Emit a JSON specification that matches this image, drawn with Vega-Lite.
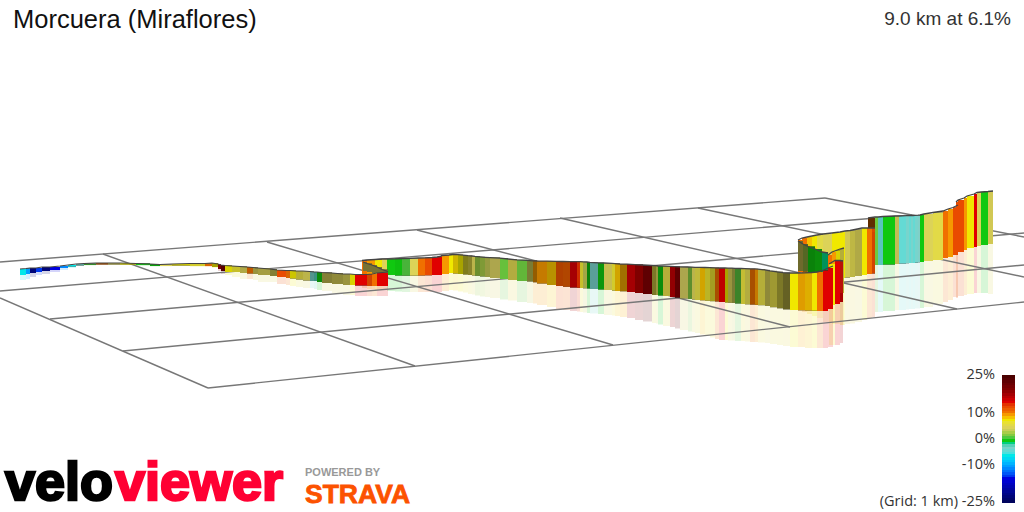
{"$schema":"https://vega.github.io/schema/vega-lite/v6.json","width":1024,"height":512,"padding":0,"autosize":"none","background":"white",
"config":{"axis":{"disable":true},"legend":{"disable":true},"view":{"stroke":null}},
"datasets":{
"grid":[{"x":0,"y":262,"x2":825,"y2":198},{"x":0,"y":291,"x2":912,"y2":215},{"x":50,"y":319,"x2":1024,"y2":233},{"x":123,"y":351,"x2":1024,"y2":265},{"x":208,"y":388,"x2":1024,"y2":302},{"x":0,"y":298,"x2":208,"y2":388},{"x":103,"y":254,"x2":415,"y2":366},{"x":267,"y":242,"x2":613,"y2":345},{"x":417,"y":230,"x2":790,"y2":327},{"x":560,"y":218,"x2":957,"y2":309},{"x":698,"y":208,"x2":1024,"y2":277},{"x":825,"y":198,"x2":1024,"y2":237}],
"rib":[
{"s":"S6","z":0,"x":956,"x2":958,"t":202,"b":255,"r":298,"g":13,"l":1},{"s":"S6","z":0,"x":958,"x2":964,"t":200,"b":252,"r":296,"g":13,"l":1},{"s":"S6","z":0,"x":964,"x2":967,"t":198,"b":250,"r":295,"g":10,"l":1},{"s":"S6","z":0,"x":967,"x2":974,"t":196,"b":248,"r":294,"g":8,"l":1},{"s":"S6","z":0,"x":974,"x2":977,"t":194,"b":247,"r":293,"g":15,"l":1},{"s":"S6","z":0,"x":977,"x2":981,"t":192.5,"b":246,"r":293,"g":5,"l":1},{"s":"S6","z":0,"x":981,"x2":988,"t":192,"b":245,"r":293,"g":0,"l":1},{"s":"S6","z":0,"x":988,"x2":993,"t":191.5,"b":244,"r":294,"g":5,"l":0.95},{"s":"S6","z":0,"x":993,"x2":993,"t":191,"b":243,"r":294,"g":5,"l":0.95},
{"s":"S5","z":0,"x":868,"x2":875,"t":218,"b":232,"r":232,"g":11,"l":0.4},{"s":"S5","z":0,"x":875,"x2":878,"t":217,"b":265,"r":312,"g":1.5,"l":1},{"s":"S5","z":0,"x":878,"x2":883,"t":217,"b":265,"r":312,"g":-4,"l":0.9},{"s":"S5","z":0,"x":883,"x2":895,"t":216.5,"b":264.5,"r":311,"g":0,"l":1},{"s":"S5","z":0,"x":895,"x2":899,"t":216,"b":264,"r":310,"g":4.5,"l":0.9},{"s":"S5","z":0,"x":899,"x2":906,"t":216,"b":263.5,"r":310,"g":-4,"l":1},{"s":"S5","z":0,"x":906,"x2":909,"t":215.7,"b":263.2,"r":309.5,"g":-3,"l":1},{"s":"S5","z":0,"x":909,"x2":911,"t":215.5,"b":263,"r":309,"g":-4,"l":1},{"s":"S5","z":0,"x":911,"x2":913,"t":215.5,"b":263,"r":309,"g":-3,"l":1},{"s":"S5","z":0,"x":913,"x2":915,"t":215.5,"b":263,"r":309,"g":-4,"l":1},{"s":"S5","z":0,"x":915,"x2":918,"t":215.3,"b":262.7,"r":308.5,"g":-3,"l":1},{"s":"S5","z":0,"x":918,"x2":920,"t":215.2,"b":262.3,"r":308.5,"g":-2.5,"l":1},{"s":"S5","z":0,"x":920,"x2":924,"t":215,"b":262,"r":308,"g":0,"l":1},{"s":"S5","z":0,"x":924,"x2":933,"t":214,"b":261,"r":307,"g":5,"l":1},{"s":"S5","z":0,"x":933,"x2":943,"t":212.5,"b":260,"r":304,"g":6,"l":1},{"s":"S5","z":0,"x":943,"x2":948,"t":211,"b":258,"r":302,"g":11,"l":1},{"s":"S5","z":0,"x":948,"x2":953,"t":209,"b":257,"r":300,"g":10,"l":1},{"s":"S5","z":0,"x":953,"x2":958,"t":207.5,"b":255,"r":297,"g":13,"l":1},{"s":"S5","z":0,"x":958,"x2":958,"t":205,"b":253,"r":295,"g":13,"l":1},
{"s":"S4","z":0,"x":798,"x2":802,"t":240,"b":272,"r":310,"g":11,"l":1},{"s":"S4","z":0,"x":802,"x2":807,"t":238,"b":273,"r":312,"g":11,"l":1},{"s":"S4","z":0,"x":807,"x2":812,"t":237,"b":274,"r":314,"g":9,"l":1},{"s":"S4","z":0,"x":812,"x2":817,"t":236,"b":275,"r":316,"g":8,"l":1},{"s":"S4","z":0,"x":817,"x2":823,"t":235,"b":275,"r":318,"g":6,"l":1},{"s":"S4","z":0,"x":823,"x2":832,"t":234,"b":276,"r":322,"g":5,"l":1},{"s":"S4","z":0,"x":832,"x2":840,"t":233,"b":277,"r":324,"g":8,"l":1},{"s":"S4","z":0,"x":840,"x2":845,"t":232,"b":278,"r":325,"g":8,"l":1},{"s":"S4","z":0,"x":845,"x2":850,"t":231,"b":277.5,"r":324,"g":5,"l":0.95},{"s":"S4","z":0,"x":850,"x2":855,"t":230.5,"b":277,"r":323.5,"g":5.5,"l":0.85},{"s":"S4","z":0,"x":855,"x2":862,"t":229.5,"b":276,"r":322,"g":5,"l":0.8},{"s":"S4","z":0,"x":862,"x2":867,"t":228,"b":275,"r":320,"g":8,"l":1},{"s":"S4","z":0,"x":867,"x2":872,"t":228,"b":274,"r":318,"g":11,"l":1},{"s":"S4","z":0,"x":872,"x2":875,"t":228,"b":273.5,"r":317,"g":13,"l":0.9},{"s":"S4","z":0,"x":875,"x2":875,"t":228,"b":273,"r":316,"g":13,"l":0.9},
{"s":"G","z":1,"x":798,"x2":803,"t":241,"b":271,"r":271,"g":5,"l":0.5},{"s":"G","z":1,"x":803,"x2":808,"t":244,"b":271.5,"r":271.5,"g":3,"l":0.5},{"s":"G","z":1,"x":808,"x2":815,"t":246.5,"b":272,"r":272,"g":0,"l":0.65},{"s":"G","z":1,"x":815,"x2":822,"t":249,"b":272,"r":272,"g":0,"l":0.7},{"s":"G","z":1,"x":822,"x2":828,"t":252,"b":272,"r":272,"g":-1,"l":0.7},{"s":"G","z":1,"x":828,"x2":828,"t":253,"b":272,"r":272,"g":-1,"l":0.7},
{"s":"O","z":1,"x":828,"x2":832,"t":255,"b":270,"r":270,"g":11,"l":1},{"s":"O","z":1,"x":832,"x2":836,"t":252,"b":272,"r":272,"g":10,"l":1},{"s":"O","z":1,"x":836,"x2":840,"t":250.5,"b":290,"r":290,"g":8,"l":0.9},{"s":"O","z":1,"x":840,"x2":844,"t":249,"b":293,"r":325,"g":6,"l":0.8},{"s":"O","z":1,"x":844,"x2":844,"t":248,"b":293,"r":325,"g":6,"l":0.8},
{"s":"R","z":1,"x":829,"x2":835,"t":264,"b":305,"r":345,"g":8,"l":1},{"s":"R","z":1,"x":835,"x2":840,"t":260.5,"b":304,"r":345,"g":15,"l":1},{"s":"R","z":1,"x":840,"x2":843,"t":260.5,"b":302,"r":343,"g":17,"l":0.9},{"s":"R","z":1,"x":843,"x2":843,"t":261,"b":301,"r":342,"g":17,"l":0.9},
{"s":"M","z":2,"x":362,"x2":367,"t":260.5,"b":274.5,"r":288,"g":11,"l":1},{"s":"M","z":2,"x":367,"x2":375,"t":260,"b":275,"r":289,"g":10,"l":1},{"s":"M","z":2,"x":375,"x2":382,"t":259.5,"b":275,"r":290,"g":8,"l":1},{"s":"M","z":2,"x":382,"x2":387,"t":259,"b":275,"r":290,"g":5,"l":1},{"s":"M","z":2,"x":387,"x2":395,"t":259,"b":275,"r":291,"g":0,"l":1},{"s":"M","z":2,"x":395,"x2":402,"t":258.8,"b":275.5,"r":291.5,"g":0,"l":0.95},{"s":"M","z":2,"x":402,"x2":410,"t":258.5,"b":275.7,"r":292,"g":1,"l":0.9},{"s":"M","z":2,"x":410,"x2":418,"t":258.3,"b":275.7,"r":292,"g":5,"l":1},{"s":"M","z":2,"x":418,"x2":425,"t":258,"b":275.5,"r":292,"g":11,"l":1},{"s":"M","z":2,"x":425,"x2":432,"t":257.8,"b":275.3,"r":292,"g":13,"l":1},{"s":"M","z":2,"x":432,"x2":437,"t":257.5,"b":275,"r":292,"g":15,"l":1},{"s":"M","z":2,"x":437,"x2":440,"t":257,"b":275,"r":292,"g":15,"l":1},
{"s":"M","z":2,"x":440,"x2":442,"t":256.5,"b":275,"r":292,"g":15,"l":1},{"s":"M","z":2,"x":442,"x2":449,"t":255.5,"b":274,"r":291,"g":10,"l":1},{"s":"M","z":2,"x":449,"x2":453,"t":255,"b":273,"r":290,"g":8,"l":1},{"s":"M","z":2,"x":453,"x2":458,"t":254.5,"b":273.5,"r":290.5,"g":8.5,"l":0.85},{"s":"M","z":2,"x":458,"x2":463,"t":254.7,"b":274,"r":291.5,"g":8,"l":0.7},{"s":"M","z":2,"x":463,"x2":468,"t":255.2,"b":274.5,"r":292.5,"g":7,"l":0.55},{"s":"M","z":2,"x":468,"x2":472,"t":255.7,"b":275,"r":294,"g":6,"l":0.6},{"s":"M","z":2,"x":472,"x2":475,"t":256,"b":275.5,"r":294.5,"g":5,"l":0.85},{"s":"M","z":2,"x":475,"x2":480,"t":256.4,"b":275.8,"r":295.5,"g":2.5,"l":0.7},{"s":"M","z":2,"x":480,"x2":485,"t":256.9,"b":276.5,"r":296.5,"g":3,"l":0.75},{"s":"M","z":2,"x":485,"x2":490,"t":257.3,"b":277,"r":297,"g":4,"l":0.75},{"s":"M","z":2,"x":490,"x2":500,"t":257.6,"b":278,"r":298,"g":4.5,"l":0.8},{"s":"M","z":2,"x":500,"x2":508,"t":258.2,"b":279,"r":299.5,"g":1.5,"l":0.95},{"s":"M","z":2,"x":508,"x2":517,"t":259,"b":280,"r":300.5,"g":5.5,"l":0.8},{"s":"M","z":2,"x":517,"x2":527,"t":259.9,"b":281,"r":302,"g":1.5,"l":0.9},{"s":"M","z":2,"x":527,"x2":533,"t":260.4,"b":281.5,"r":303,"g":4,"l":0.6},{"s":"M","z":2,"x":533,"x2":537,"t":260.8,"b":282.3,"r":303.5,"g":10,"l":0.6},{"s":"M","z":2,"x":537,"x2":547,"t":261,"b":283.5,"r":305,"g":10,"l":0.8},{"s":"M","z":2,"x":547,"x2":556,"t":261.2,"b":285,"r":307,"g":9,"l":0.75},{"s":"M","z":2,"x":556,"x2":563,"t":261.4,"b":286,"r":309,"g":12.5,"l":0.75},{"s":"M","z":2,"x":563,"x2":570,"t":261.5,"b":286.8,"r":310,"g":12,"l":0.75},{"s":"M","z":2,"x":570,"x2":577,"t":261.6,"b":287.5,"r":311,"g":18,"l":1},{"s":"M","z":2,"x":577,"x2":580,"t":261.7,"b":287.8,"r":311.5,"g":14,"l":0.9},{"s":"M","z":2,"x":580,"x2":583,"t":261.7,"b":288,"r":312,"g":7,"l":0.85},{"s":"M","z":2,"x":583,"x2":587,"t":261.9,"b":288.3,"r":312.5,"g":4,"l":0.8},{"s":"M","z":2,"x":587,"x2":590,"t":262,"b":288.5,"r":313,"g":0,"l":0.65},{"s":"M","z":2,"x":590,"x2":598,"t":262.4,"b":289,"r":313.5,"g":-3,"l":0.75},{"s":"M","z":2,"x":598,"x2":604,"t":262.8,"b":289.5,"r":314,"g":0,"l":0.75},{"s":"M","z":2,"x":604,"x2":612,"t":263,"b":290,"r":315,"g":5,"l":0.9},{"s":"M","z":2,"x":612,"x2":615,"t":263.4,"b":290.5,"r":315.5,"g":7,"l":0.9},{"s":"M","z":2,"x":615,"x2":620,"t":263.6,"b":291,"r":316,"g":9,"l":0.85},{"s":"M","z":2,"x":620,"x2":627,"t":264,"b":291.3,"r":317,"g":9.5,"l":0.65},{"s":"M","z":2,"x":627,"x2":635,"t":264.2,"b":292,"r":318,"g":18,"l":1},{"s":"M","z":2,"x":635,"x2":643,"t":264.6,"b":293,"r":320,"g":20,"l":1},{"s":"M","z":2,"x":643,"x2":652,"t":265,"b":294,"r":321.5,"g":23,"l":1},{"s":"M","z":2,"x":652,"x2":656,"t":265.5,"b":295,"r":323,"g":6,"l":0.55},{"s":"M","z":2,"x":656,"x2":658,"t":265.7,"b":295,"r":323.5,"g":5,"l":0.7},{"s":"M","z":2,"x":658,"x2":663,"t":266,"b":295.5,"r":324.5,"g":0,"l":0.7},{"s":"M","z":2,"x":663,"x2":670,"t":266.2,"b":296,"r":326,"g":6,"l":0.8},{"s":"M","z":2,"x":670,"x2":675,"t":266.4,"b":297,"r":327,"g":19,"l":1},{"s":"M","z":2,"x":675,"x2":680,"t":266.6,"b":297.5,"r":328.5,"g":23,"l":1},{"s":"M","z":2,"x":680,"x2":688,"t":266.9,"b":298.5,"r":330,"g":4.5,"l":0.8},{"s":"M","z":2,"x":688,"x2":692,"t":267,"b":299,"r":331.5,"g":2,"l":0.7},{"s":"M","z":2,"x":692,"x2":695,"t":267.2,"b":299.5,"r":332,"g":5,"l":0.85},{"s":"M","z":2,"x":695,"x2":700,"t":267.3,"b":300,"r":333,"g":6,"l":0.85},{"s":"M","z":2,"x":700,"x2":705,"t":267.4,"b":300.3,"r":334.5,"g":9,"l":0.85},{"s":"M","z":2,"x":705,"x2":710,"t":267.5,"b":300.7,"r":336,"g":7,"l":0.8},{"s":"M","z":2,"x":710,"x2":715,"t":267.7,"b":301.2,"r":337.5,"g":7,"l":0.7},{"s":"M","z":2,"x":715,"x2":719,"t":267.8,"b":301.5,"r":339,"g":11,"l":0.7},{"s":"M","z":2,"x":719,"x2":725,"t":268,"b":302,"r":340,"g":15,"l":0.85},{"s":"M","z":2,"x":725,"x2":728,"t":268,"b":302.5,"r":340,"g":8,"l":0.7},{"s":"M","z":2,"x":728,"x2":732,"t":268.1,"b":302.8,"r":340.5,"g":5,"l":0.7},{"s":"M","z":2,"x":732,"x2":735,"t":268.2,"b":303,"r":340.5,"g":4,"l":0.6},{"s":"M","z":2,"x":735,"x2":741,"t":268.4,"b":303.5,"r":341,"g":1.2,"l":0.65},{"s":"M","z":2,"x":741,"x2":745,"t":268.5,"b":304,"r":341,"g":6.5,"l":0.85},{"s":"M","z":2,"x":745,"x2":750,"t":268.6,"b":304.3,"r":341.5,"g":5.5,"l":0.8},{"s":"M","z":2,"x":750,"x2":755,"t":268.8,"b":304.6,"r":342,"g":11,"l":0.7},{"s":"M","z":2,"x":755,"x2":758,"t":268.9,"b":304.9,"r":342,"g":10,"l":0.8},{"s":"M","z":2,"x":758,"x2":765,"t":269.2,"b":305.2,"r":342.5,"g":6,"l":0.8},{"s":"M","z":2,"x":765,"x2":770,"t":269.9,"b":306,"r":343,"g":5,"l":0.65},{"s":"M","z":2,"x":770,"x2":777,"t":270.9,"b":307.2,"r":344,"g":6,"l":0.7},{"s":"M","z":2,"x":777,"x2":783,"t":271.8,"b":308.3,"r":345,"g":6,"l":0.55},{"s":"M","z":2,"x":783,"x2":790,"t":272.7,"b":309.4,"r":346,"g":5.5,"l":0.45},
{"s":"M","z":2,"x":790,"x2":798,"t":273,"b":310,"r":347,"g":8,"l":1},{"s":"M","z":2,"x":798,"x2":805,"t":273,"b":310.3,"r":347,"g":9.5,"l":0.9},{"s":"M","z":2,"x":805,"x2":812,"t":272.8,"b":310.5,"r":348,"g":9,"l":0.9},{"s":"M","z":2,"x":812,"x2":817,"t":272.5,"b":310.7,"r":348,"g":8,"l":1},{"s":"M","z":2,"x":817,"x2":823,"t":272,"b":311,"r":348,"g":11,"l":1},{"s":"M","z":2,"x":823,"x2":828,"t":270.5,"b":311,"r":348,"g":15,"l":1},{"s":"M","z":2,"x":828,"x2":833,"t":268,"b":309,"r":347,"g":15,"l":1},{"s":"M","z":2,"x":833,"x2":833,"t":266,"b":307,"r":345,"g":15,"l":1},
{"s":"F","z":3,"x":363,"x2":367,"t":262,"b":271,"r":271,"g":4.5,"l":0.55},{"s":"F","z":3,"x":367,"x2":372,"t":263.5,"b":272,"r":272,"g":4.5,"l":0.55},{"s":"F","z":3,"x":372,"x2":377,"t":265,"b":273,"r":273,"g":4.5,"l":0.55},{"s":"F","z":3,"x":377,"x2":382,"t":267,"b":274,"r":274,"g":4.5,"l":0.55},{"s":"F","z":3,"x":382,"x2":388,"t":269.5,"b":275,"r":275,"g":4.5,"l":0.55},{"s":"F","z":3,"x":388,"x2":388,"t":271.5,"b":275,"r":275,"g":4.5,"l":0.55},
{"s":"L","z":3,"x":20,"x2":26,"t":269,"b":275,"r":280,"g":-6,"l":1},{"s":"L","z":3,"x":26,"x2":30,"t":268.5,"b":274,"r":279,"g":-10,"l":1},{"s":"L","z":3,"x":30,"x2":36,"t":268,"b":273,"r":277,"g":-22,"l":1},{"s":"L","z":3,"x":36,"x2":42,"t":268,"b":272,"r":275,"g":-14,"l":1},{"s":"L","z":3,"x":42,"x2":50,"t":267,"b":271,"r":274,"g":-22,"l":1},{"s":"L","z":3,"x":50,"x2":60,"t":267,"b":270,"r":272,"g":-15,"l":1},{"s":"L","z":3,"x":60,"x2":68,"t":266,"b":268,"r":270,"g":-11,"l":1},{"s":"L","z":3,"x":68,"x2":76,"t":265,"b":266.5,"r":268,"g":-6,"l":1},{"s":"L","z":3,"x":76,"x2":84,"t":264,"b":265.5,"r":266,"g":-3,"l":0.8},{"s":"L","z":3,"x":84,"x2":96,"t":263.5,"b":265,"r":265.5,"g":1,"l":0.7},{"s":"L","z":3,"x":96,"x2":108,"t":263,"b":264.5,"r":265,"g":11,"l":0.7},{"s":"L","z":3,"x":108,"x2":120,"t":263,"b":264.5,"r":265,"g":5,"l":0.8},{"s":"L","z":3,"x":120,"x2":136,"t":263,"b":264.5,"r":265,"g":8,"l":1},{"s":"L","z":3,"x":136,"x2":150,"t":263.5,"b":265,"r":266,"g":0,"l":1},{"s":"L","z":3,"x":150,"x2":160,"t":264,"b":266,"r":266.5,"g":0,"l":0.8},{"s":"L","z":3,"x":160,"x2":172,"t":264.5,"b":266,"r":266.5,"g":5,"l":1},{"s":"L","z":3,"x":172,"x2":190,"t":264,"b":265.5,"r":266,"g":8,"l":0.9},{"s":"L","z":3,"x":190,"x2":205,"t":263.5,"b":266,"r":267,"g":7,"l":0.9},{"s":"L","z":3,"x":205,"x2":212,"t":263.5,"b":266,"r":267,"g":11,"l":0.9},{"s":"L","z":3,"x":212,"x2":218,"t":263,"b":267,"r":268,"g":8,"l":0.7},{"s":"L","z":3,"x":218,"x2":221,"t":264,"b":269,"r":271,"g":19,"l":0.8},{"s":"L","z":3,"x":221,"x2":225,"t":265,"b":271,"r":274,"g":24,"l":1},{"s":"L","z":3,"x":225,"x2":232,"t":265.5,"b":272,"r":275,"g":8,"l":0.9},{"s":"L","z":3,"x":232,"x2":240,"t":266,"b":272,"r":277,"g":7,"l":0.85},{"s":"L","z":3,"x":240,"x2":247,"t":266.5,"b":273,"r":279,"g":5,"l":0.8},{"s":"L","z":3,"x":247,"x2":253,"t":267,"b":273.5,"r":279,"g":11,"l":0.8},{"s":"L","z":3,"x":253,"x2":258,"t":267.5,"b":274,"r":280,"g":5,"l":0.7},{"s":"L","z":3,"x":258,"x2":270,"t":268,"b":275,"r":282,"g":5,"l":0.75},{"s":"L","z":3,"x":270,"x2":277,"t":269,"b":276,"r":282,"g":5,"l":0.6},{"s":"L","z":3,"x":277,"x2":286,"t":270,"b":277,"r":284,"g":13,"l":1},{"s":"L","z":3,"x":286,"x2":290,"t":270.5,"b":278,"r":285,"g":11,"l":0.9},{"s":"L","z":3,"x":290,"x2":296,"t":270.5,"b":278.5,"r":286,"g":8,"l":0.85},{"s":"L","z":3,"x":296,"x2":303,"t":271,"b":279.5,"r":287,"g":6,"l":0.8},{"s":"L","z":3,"x":303,"x2":310,"t":271,"b":280.5,"r":288,"g":5,"l":0.85},{"s":"L","z":3,"x":310,"x2":314,"t":271.5,"b":281,"r":288,"g":-3,"l":0.7},{"s":"L","z":3,"x":314,"x2":317,"t":272,"b":281,"r":289,"g":-2,"l":0.7},{"s":"L","z":3,"x":317,"x2":322,"t":272,"b":282,"r":290,"g":0,"l":0.7},{"s":"L","z":3,"x":322,"x2":332,"t":272.5,"b":283,"r":291,"g":5,"l":0.6},{"s":"L","z":3,"x":332,"x2":343,"t":273,"b":284,"r":293,"g":5,"l":0.65},{"s":"L","z":3,"x":343,"x2":350,"t":274,"b":285,"r":295,"g":5,"l":0.7},{"s":"L","z":3,"x":350,"x2":355,"t":274,"b":285,"r":295,"g":8,"l":0.9},{"s":"L","z":3,"x":355,"x2":367,"t":274.5,"b":285.5,"r":296,"g":15,"l":1},{"s":"L","z":3,"x":367,"x2":372,"t":274.5,"b":286,"r":296,"g":13,"l":0.9},{"s":"L","z":3,"x":372,"x2":377,"t":274,"b":286,"r":296,"g":11,"l":1},{"s":"L","z":3,"x":377,"x2":388,"t":273,"b":286,"r":296,"g":15,"l":1},{"s":"L","z":3,"x":388,"x2":388,"t":272,"b":286,"r":296,"g":15,"l":1}
],
"leg":[{"g":25,"y":375,"y2":378},{"g":24,"y":378,"y2":380},{"g":23,"y":380,"y2":383},{"g":22,"y":383,"y2":385},{"g":21,"y":385,"y2":388},{"g":20,"y":388,"y2":390},{"g":19,"y":390,"y2":393},{"g":18,"y":393,"y2":396},{"g":17,"y":396,"y2":398},{"g":16,"y":398,"y2":401},{"g":15,"y":401,"y2":403},{"g":14,"y":403,"y2":406},{"g":13,"y":406,"y2":408},{"g":12,"y":408,"y2":411},{"g":11,"y":411,"y2":413},{"g":10,"y":413,"y2":416},{"g":9,"y":416,"y2":419},{"g":8,"y":419,"y2":421},{"g":7,"y":421,"y2":424},{"g":6,"y":424,"y2":426},{"g":5,"y":426,"y2":429},{"g":4,"y":429,"y2":431},{"g":3,"y":431,"y2":434},{"g":2,"y":434,"y2":436},{"g":1,"y":436,"y2":439},{"g":0,"y":439,"y2":442},{"g":-1,"y":442,"y2":444},{"g":-2,"y":444,"y2":447},{"g":-3,"y":447,"y2":449},{"g":-4,"y":449,"y2":452},{"g":-5,"y":452,"y2":454},{"g":-6,"y":454,"y2":457},{"g":-7,"y":457,"y2":460},{"g":-8,"y":460,"y2":462},{"g":-9,"y":462,"y2":465},{"g":-10,"y":465,"y2":467},{"g":-11,"y":467,"y2":470},{"g":-12,"y":470,"y2":472},{"g":-13,"y":472,"y2":475},{"g":-14,"y":475,"y2":477},{"g":-15,"y":477,"y2":480},{"g":-16,"y":480,"y2":483},{"g":-17,"y":483,"y2":485},{"g":-18,"y":485,"y2":488},{"g":-19,"y":488,"y2":490},{"g":-20,"y":490,"y2":493},{"g":-21,"y":493,"y2":495},{"g":-22,"y":495,"y2":498},{"g":-23,"y":498,"y2":500},{"g":-24,"y":500,"y2":503}],
"ticks":[{"txt":"25%","y":379},{"txt":"10%","y":417},{"txt":"0%","y":443},{"txt":"-10%","y":469},{"txt":"(Grid: 1 km) -25%","y":506}],
"logo":[{"c":"velo","x":5,"p":"velo"},{"c":"viewer","x":115,"p":"viewer"}]
},
"layer":[
{"data":{"name":"rib"},"mark":{"type":"rect","opacity":0.17},"encoding":{"x":{"field":"x","type":"quantitative","scale":{"domain":[0,1024],"nice":false,"zero":false}},"x2":{"field":"x2"},"y":{"field":"b","type":"quantitative","scale":{"domain":[0,512],"reverse":true,"nice":false,"zero":false}},"y2":{"field":"r"},"color":{"field":"g","type":"quantitative","scale":{"domain":[-25,-15,-11,-6,-2.5,0,1,4.5,8,11,15,20,25],"range":["#000050","#0000e0","#0088ff","#00e8e8","#80d0c8","#10c810","#50c840","#d8d060","#f0e800","#f07000","#e00000","#800000","#4a0000"]}}}},
{"data":{"name":"grid"},"mark":{"type":"rule","stroke":"#777777","strokeWidth":1.4},"encoding":{"x":{"field":"x","type":"quantitative"},"x2":{"field":"x2"},"y":{"field":"y","type":"quantitative"},"y2":{"field":"y2"}}},
{"data":{"name":"rib"},"transform":[{"filter":"datum.z==0"}],"layer":[
{"mark":{"type":"rect","fill":"#000000"},"encoding":{"x":{"field":"x","type":"quantitative"},"x2":{"field":"x2"},"y":{"field":"t","type":"quantitative"},"y2":{"field":"b"}}},
{"mark":{"type":"rect"},"encoding":{"x":{"field":"x","type":"quantitative"},"x2":{"field":"x2"},"y":{"field":"t","type":"quantitative"},"y2":{"field":"b"},"color":{"field":"g","type":"quantitative"},"opacity":{"field":"l","type":"quantitative","scale":null}}},
{"mark":{"type":"line","stroke":"#444444","strokeWidth":1.3},"encoding":{"x":{"field":"x","type":"quantitative"},"y":{"field":"t","type":"quantitative"},"detail":{"field":"s"}}}]},
{"data":{"name":"rib"},"transform":[{"filter":"datum.z==1"}],"layer":[
{"mark":{"type":"rect","fill":"#000000"},"encoding":{"x":{"field":"x","type":"quantitative"},"x2":{"field":"x2"},"y":{"field":"t","type":"quantitative"},"y2":{"field":"b"}}},
{"mark":{"type":"rect"},"encoding":{"x":{"field":"x","type":"quantitative"},"x2":{"field":"x2"},"y":{"field":"t","type":"quantitative"},"y2":{"field":"b"},"color":{"field":"g","type":"quantitative"},"opacity":{"field":"l","type":"quantitative","scale":null}}},
{"mark":{"type":"line","stroke":"#444444","strokeWidth":1.3},"encoding":{"x":{"field":"x","type":"quantitative"},"y":{"field":"t","type":"quantitative"},"detail":{"field":"s"}}}]},
{"data":{"name":"rib"},"transform":[{"filter":"datum.z==2"}],"layer":[
{"mark":{"type":"rect","fill":"#000000"},"encoding":{"x":{"field":"x","type":"quantitative"},"x2":{"field":"x2"},"y":{"field":"t","type":"quantitative"},"y2":{"field":"b"}}},
{"mark":{"type":"rect"},"encoding":{"x":{"field":"x","type":"quantitative"},"x2":{"field":"x2"},"y":{"field":"t","type":"quantitative"},"y2":{"field":"b"},"color":{"field":"g","type":"quantitative"},"opacity":{"field":"l","type":"quantitative","scale":null}}},
{"mark":{"type":"line","stroke":"#444444","strokeWidth":1.3},"encoding":{"x":{"field":"x","type":"quantitative"},"y":{"field":"t","type":"quantitative"},"detail":{"field":"s"}}}]},
{"data":{"name":"rib"},"transform":[{"filter":"datum.z==3"}],"layer":[
{"mark":{"type":"rect","fill":"#000000"},"encoding":{"x":{"field":"x","type":"quantitative"},"x2":{"field":"x2"},"y":{"field":"t","type":"quantitative"},"y2":{"field":"b"}}},
{"mark":{"type":"rect"},"encoding":{"x":{"field":"x","type":"quantitative"},"x2":{"field":"x2"},"y":{"field":"t","type":"quantitative"},"y2":{"field":"b"},"color":{"field":"g","type":"quantitative"},"opacity":{"field":"l","type":"quantitative","scale":null}}},
{"mark":{"type":"line","stroke":"#444444","strokeWidth":1.1},"encoding":{"x":{"field":"x","type":"quantitative"},"y":{"field":"t","type":"quantitative"},"detail":{"field":"s"}}}]},
{"data":{"name":"leg"},"mark":{"type":"rect"},"encoding":{"x":{"datum":1002,"type":"quantitative"},"x2":{"datum":1015},"y":{"field":"y","type":"quantitative"},"y2":{"field":"y2"},"color":{"field":"g","type":"quantitative"}}},
{"data":{"name":"ticks"},"mark":{"type":"text","font":"Open Sans","fontSize":14.5,"align":"right","baseline":"alphabetic","fill":"#333333"},"encoding":{"x":{"datum":995,"type":"quantitative"},"y":{"field":"y","type":"quantitative"},"text":{"field":"txt"}}},
{"data":{"values":[{"txt":"Morcuera (Miraflores)"}]},"mark":{"type":"text","font":"Liberation Sans","fontSize":25.5,"align":"left","baseline":"alphabetic","fill":"#111111"},"encoding":{"x":{"datum":13,"type":"quantitative"},"y":{"datum":28,"type":"quantitative"},"text":{"field":"txt"}}},
{"data":{"values":[{"txt":"9.0 km at 6.1%"}]},"mark":{"type":"text","font":"Liberation Sans","fontSize":19,"align":"right","baseline":"alphabetic","fill":"#333333"},"encoding":{"x":{"datum":1011,"type":"quantitative"},"y":{"datum":25,"type":"quantitative"},"text":{"field":"txt"}}},
{"data":{"name":"logo"},"mark":{"type":"text","font":"Liberation Sans","fontWeight":"bold","fontSize":54,"align":"left","baseline":"alphabetic","strokeWidth":2.5},"encoding":{"x":{"field":"x","type":"quantitative"},"y":{"datum":500,"type":"quantitative"},"text":{"field":"c"},"fill":{"field":"p","scale":{"domain":["velo","viewer"],"range":["#000000","#ff0033"]}},"stroke":{"field":"p","scale":{"domain":["velo","viewer"],"range":["#000000","#ff0033"]}}}},
{"data":{"values":[{"txt":"POWERED BY"}]},"mark":{"type":"text","font":"Liberation Sans","fontWeight":"bold","fontSize":11,"align":"left","baseline":"alphabetic","fill":"#999999"},"encoding":{"x":{"datum":305,"type":"quantitative"},"y":{"datum":476,"type":"quantitative"},"text":{"field":"txt"}}},
{"data":{"values":[{"txt":"STRAVA"}]},"mark":{"type":"text","font":"Liberation Sans","fontWeight":"bold","fontSize":26.5,"align":"left","baseline":"alphabetic","fill":"#fc5200","stroke":"#fc5200","strokeWidth":0.8},"encoding":{"x":{"datum":305,"type":"quantitative"},"y":{"datum":503,"type":"quantitative"},"text":{"field":"txt"}}}
]}
